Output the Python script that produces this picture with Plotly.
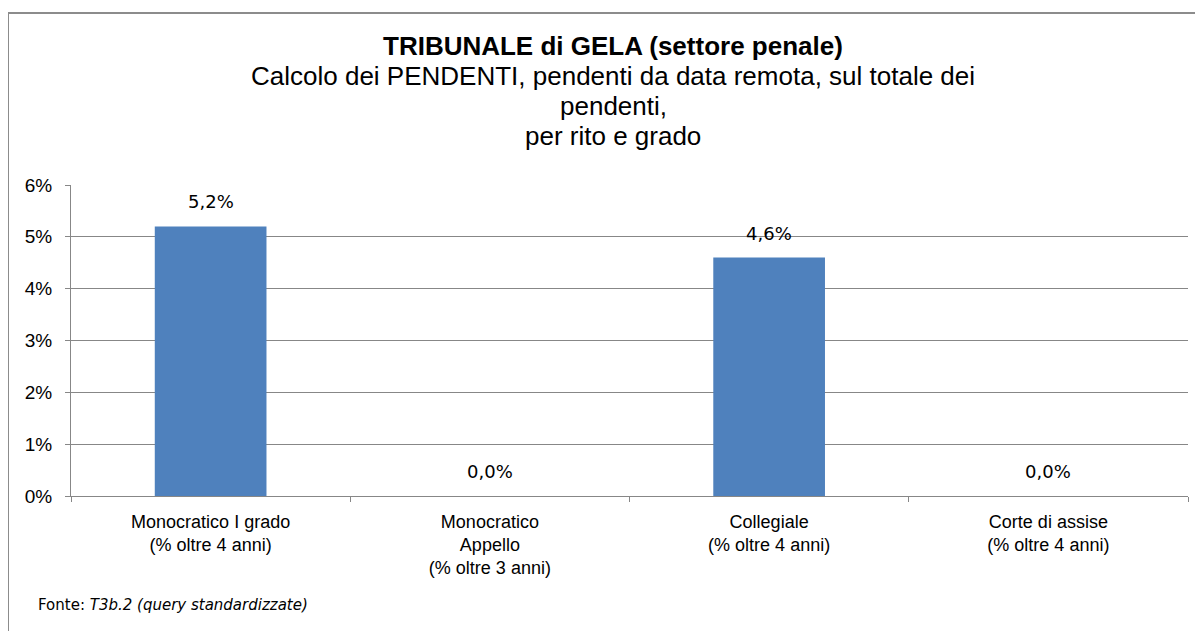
import plotly.graph_objects as go

categories = [
    "Monocratico I grado<br>(% oltre 4 anni)",
    "Monocratico<br>Appello<br>(% oltre 3 anni)",
    "Collegiale<br>(% oltre 4 anni)",
    "Corte di assise<br>(% oltre 4 anni)",
]
values = [0.052, 0.0, 0.046, 0.0]
y_ticks = [0, 0.01, 0.02, 0.03, 0.04, 0.05, 0.06]
title_lines = [
    "<b>TRIBUNALE di GELA (settore penale)</b>",
    "Calcolo dei PENDENTI, pendenti da data remota, sul totale dei",
    "pendenti,",
    "per rito e grado",
]

# page offset from default body margin
OFF = 8
W, H = 1203 - OFF, 631 - OFF
PL, PR, PT, PB = 71, 1188, 185, 496  # plot area in page pixels
L, R, T, B = PL - OFF, W - (PR - OFF), PT - OFF, H - (PB - OFF)
pw, ph = W - L - R, H - T - B

def px_x(x):
    return (x - OFF - L) / pw

def px_y(y):
    return (H - B - (y - OFF)) / ph

fig = go.Figure()
fig.add_trace(go.Bar(
    x=categories, y=values,
    marker=dict(color="#4F81BD", line=dict(width=0)),
    width=0.4,
    hoverinfo="skip",
))

annotations = []
for c, v in zip(categories, values):
    annotations.append(dict(
        x=c, y=v, xref="x", yref="y",
        text=f"{v*100:.1f}%".replace(".", ","),
        showarrow=False, yanchor="bottom", yshift=12,
        font=dict(family="DejaVu Sans, Verdana", size=18, color="#000000"),
    ))

title_y = [46, 76, 106, 136]
for t, yy in zip(title_lines, title_y):
    annotations.append(dict(
        x=px_x(613), y=px_y(yy), xref="paper", yref="paper",
        xanchor="center", yanchor="middle", showarrow=False,
        text=t,
        font=dict(family="Liberation Sans, Arial", size=26, color="#000000"),
    ))

annotations.append(dict(
    x=px_x(36), y=px_y(605), xref="paper", yref="paper",
    xanchor="left", yanchor="middle", showarrow=False,
    text="Fonte: <i>T3b.2 (query standardizzate)</i>",
    font=dict(family="DejaVu Sans, Verdana", size=15, color="#000000"),
))

fig.update_layout(
    width=W, height=H,
    margin=dict(l=L, r=R, t=T, b=B),
    paper_bgcolor="white", plot_bgcolor="white",
    separators=",.",
    showlegend=False,
    xaxis=dict(
        type="category",
        showgrid=False,
        showline=True, linecolor="#878787", linewidth=1,
        ticks="outside", ticklen=5, tickcolor="#878787", tickson="boundaries",
        ticklabelstandoff=9,
        tickfont=dict(family="Liberation Sans, Arial", size=18, color="#000000"),
        fixedrange=True,
    ),
    yaxis=dict(
        range=[0, 0.06],
        tickvals=y_ticks, tickformat=".0%",
        showgrid=True, gridcolor="#878787", gridwidth=1,
        showline=True, linecolor="#878787", linewidth=1,
        ticks="outside", ticklen=5, tickcolor="#878787",
        ticklabelstandoff=9,
        tickfont=dict(family="Liberation Sans, Arial", size=19, color="#000000"),
        zeroline=False,
        fixedrange=True,
    ),
    annotations=annotations,
    shapes=[dict(
        type="rect", xref="paper", yref="paper",
        x0=px_x(8), x1=px_x(1240), y0=px_y(680), y1=px_y(13),
        line=dict(color="#8c8c8c", width=2), fillcolor="rgba(0,0,0,0)",
        layer="below",
    )],
)

fig.write_html("out.html")
